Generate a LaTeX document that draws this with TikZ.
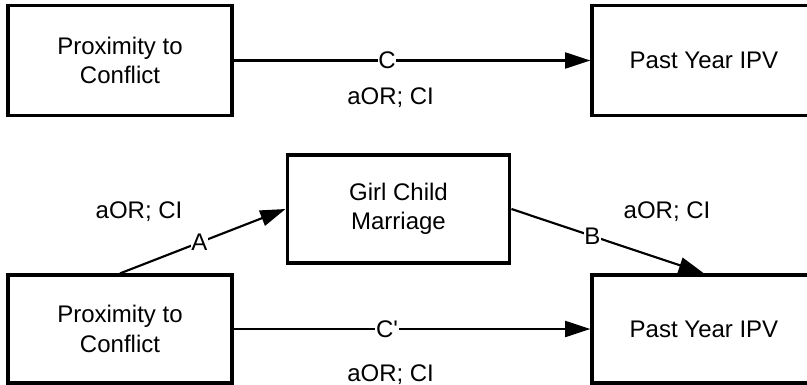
\documentclass[tikz,border=0pt]{standalone}
\usepackage{fontspec}
\setmainfont{Liberation Sans}
\usetikzlibrary{arrows.meta}
\usetikzlibrary{positioning}

\tikzset{
  varbox/.style={draw, line width=2.4pt, align=center, minimum width=168pt, minimum height=82pt, inner sep=4pt},
  path/.style={line width=1.6pt, -{Triangle[length=19pt, width=12pt]}},
  pathname/.style={fill=white, inner sep=0.5pt},
  est/.style={inner sep=0pt}
}

\begin{document}
\begin{tikzpicture}[x=0.75pt, y=-0.75pt, font=\fontsize{18}{22}\selectfont]
\useasboundingbox (0,0) rectangle (807,385);
\clip (0,0) rectangle (807,385);

% total effect
\node[varbox, minimum height=83pt] (prox) at (120, 60.5) {Proximity to \\ Conflict};
\node[varbox, minimum height=83pt] (ipv) at (704, 60.5) {Past Year IPV};
\draw[path] (prox) -- (ipv)
  node[pathname, pos=0.43] (c) {C}
  node[est, pos=0.44, yshift=-28pt] (estc) {aOR; CI};

% mediated model
\node[varbox, minimum height=81pt] (proxm) at (120, 329) {Proximity to \\ Conflict};
\node[varbox, minimum height=81pt] (ipvm) at (704, 329) {Past Year IPV};
\node[varbox, minimum width=167pt, minimum height=81pt] (marriage) at (398.5, 209) {Girl Child \\ Marriage};

\draw[path] (proxm.north) -- (marriage.west)
  node[pathname, pos=0.48] (a) {A};
\node[est] (esta) at (139, 212) {aOR; CI};

\draw[path] (marriage.east) -- (ipvm.north)
  node[pathname, pos=0.42] (b) {B};
\node[est] (estb) at (667, 212) {aOR; CI};

\draw[path] (proxm) -- (ipvm)
  node[pathname, pos=0.43] (cp) {C\textquotesingle}
  node[est, pos=0.44, yshift=-34pt] (estcp) {aOR; CI};
\end{tikzpicture}
\end{document}
